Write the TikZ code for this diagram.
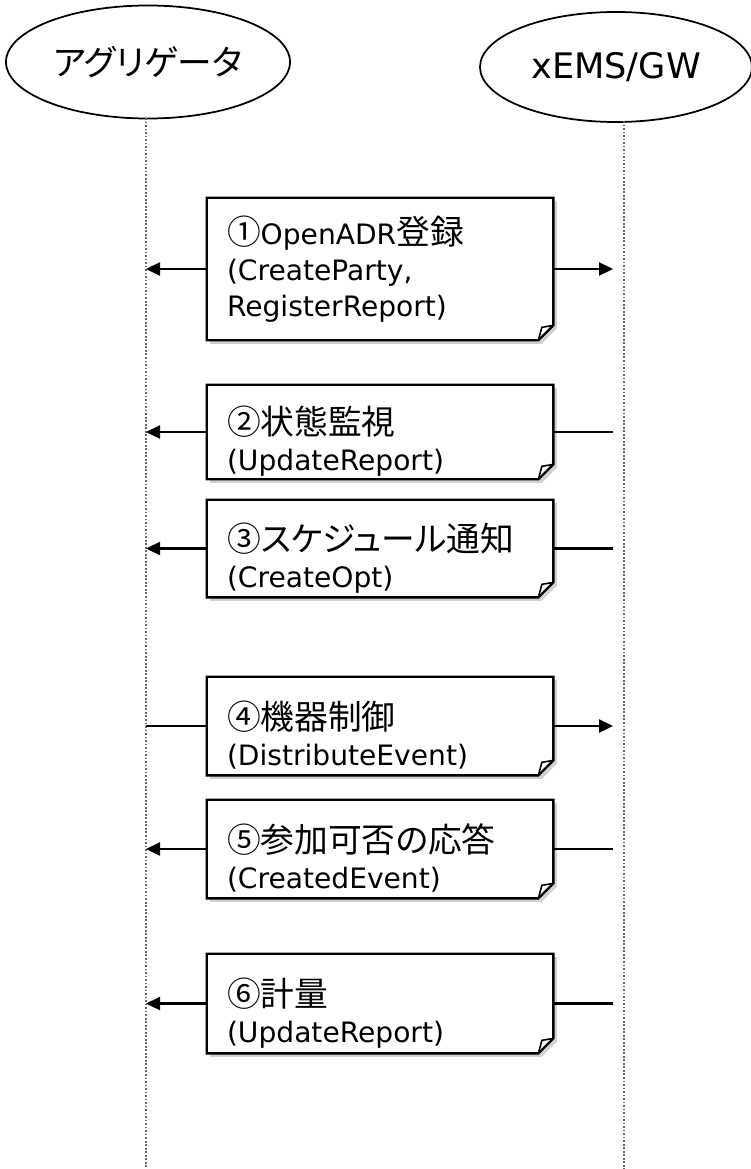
\documentclass[tikz,border=0pt]{standalone}
\usepackage{fontspec}
\setmainfont{DejaVu Sans}
\newfontfamily\jp[Scale=1.2,CharacterWidth=AlternateProportional]{Noto Sans CJK JP}
\usetikzlibrary{arrows.meta,shapes.geometric,backgrounds}

\newcommand{\foldsize}{0.3}

\begin{document}
\begin{tikzpicture}[
    >={Triangle[length=2.8mm, width=2.6mm]},
    line/.style   = {line width=1.3pt},
    actor/.style  = {ellipse, draw, line width=1pt, inner sep=0pt,
                     font=\fontsize{20}{24}\selectfont},
    life/.style   = {densely dotted, line width=1pt, black!60},
    note/.style   = {minimum width=6.92cm, text width=6.12cm, inner xsep=0.4cm,
                     inner ysep=0pt, align=left, font=\fontsize{16}{20.5}\selectfont},
    low/.style    = {execute at begin node={\rule{0pt}{0.95cm}}},
    notebody/.style = {draw, fill=white, line width=1.3pt, line join=miter},
    noteshade/.style = {fill=black!45, opacity=0.4}
]
\useasboundingbox (0,0) rectangle (15,-23.38);

% actors
\node[actor, minimum width=5.68cm, minimum height=2.26cm] (agg) at (2.96,-1.24)
    {\jp\fontsize{16.5}{19}\selectfont アグリゲータ};
\node[actor, minimum width=5.44cm, minimum height=2.2cm] (ems) at (12.32,-1.34) {xEMS/GW};

% lifelines
\coordinate (aggTop) at (2.92,-2.36);
\coordinate (aggBot) at (2.92,-23.38);
\coordinate (emsTop) at (12.48,-2.42);
\coordinate (emsBot) at (12.48,-23.38);
\coordinate (emsTip) at (12.26,-2.42);
\draw[life] (aggTop) -- (aggBot);
\draw[life] (emsTop) -- (emsBot);

% message notes
\node[note, minimum height=2.84cm] (m1) at (7.6,-5.38)
    {{\jp ①}OpenADR{\jp 登録}\\(CreateParty,\\RegisterReport)};
\node[note, low, minimum height=1.88cm] (m2) at (7.6,-8.64)
    {{\jp ②状態監視}\\(UpdateReport)};
\node[note, low, minimum height=1.94cm] (m3) at (7.6,-10.97)
    {{\jp ③スケジュール通知}\\(CreateOpt)};
\node[note, low, minimum height=1.96cm] (m4) at (7.6,-14.52)
    {{\jp ④機器制御}\\(DistributeEvent)};
\node[note, low, minimum height=1.96cm] (m5) at (7.6,-16.98)
    {{\jp ⑤参加可否の応答}\\(CreatedEvent)};
\node[note, low, minimum height=1.98cm] (m6) at (7.6,-20.07)
    {{\jp ⑥計量}\\(UpdateReport)};

% note outlines with folded corner
\begin{scope}[on background layer]
\foreach \k in {1,...,6} {
    \begin{scope}[transform canvas={shift={(0.07,-0.07)}}]
    \fill[noteshade] (m\k.north west) -- (m\k.north east)
        -- ([yshift=\foldsize cm]m\k.south east)
        -- ([xshift=-\foldsize cm]m\k.south east) -- (m\k.south west) -- cycle;
    \end{scope}
    \draw[notebody] (m\k.north west) -- (m\k.north east)
        -- ([yshift=\foldsize cm]m\k.south east)
        -- ([xshift=-\foldsize cm]m\k.south east) -- (m\k.south west) -- cycle;
    \draw[line width=0.9pt] ([yshift=\foldsize cm]m\k.south east)
        -- ([shift={(-0.23,0.26)}]m\k.south east)
        -- ([xshift=-\foldsize cm]m\k.south east);
}
\end{scope}

% messages
\draw[->, line] (m1.west) -- (m1.west -| aggTop);
\draw[->, line] (m1.east) -- (m1.east -| emsTip);
\foreach \k in {2,3,5,6} {
    \draw[line] (m\k.east -| emsTip) -- (m\k.east);
    \draw[->, line] (m\k.west) -- (m\k.west -| aggTop);
}
\draw[line] (m4.west -| aggTop) -- (m4.west);
\draw[->, line] (m4.east) -- (m4.east -| emsTip);

\end{tikzpicture}
\end{document}
